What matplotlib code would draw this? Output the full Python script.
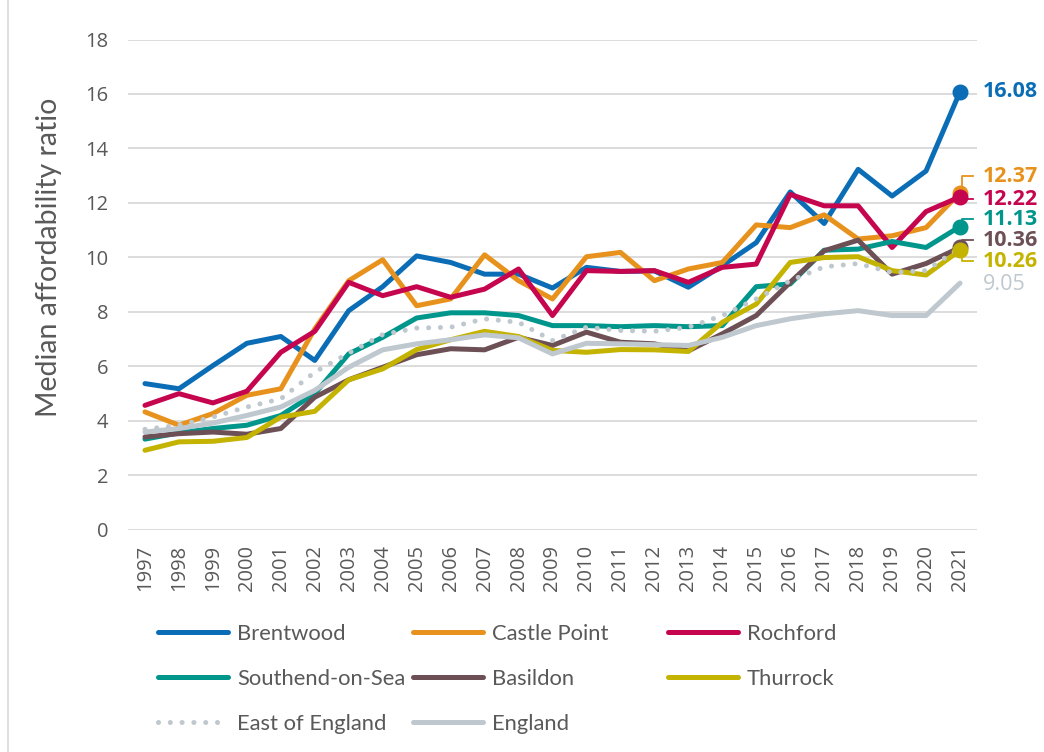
import matplotlib
matplotlib.use("Agg")
import matplotlib.pyplot as plt
from matplotlib.lines import Line2D

years = list(range(1997, 2022))

brentwood = [5.36, 5.17, 6.02, 6.84, 7.09, 6.21, 8.04, 8.92, 10.05, 9.81, 9.38, 9.38, 8.87, 9.63, 9.48, 9.50, 8.90,
             9.69, 10.54, 12.40, 11.24, 13.23, 12.25, 13.17, 16.08]
castle_point = [4.32, 3.83, 4.26, 4.93, 5.17, 7.37, 9.14, 9.91, 8.22, 8.47, 10.09, 9.14, 8.47, 10.02, 10.18, 9.14, 9.57,
                9.81, 11.19, 11.09, 11.56, 10.67, 10.79, 11.09, 12.37]
rochford = [4.56, 4.99, 4.65, 5.08, 6.51, 7.28, 9.08, 8.59, 8.92, 8.53, 8.83, 9.57, 7.86, 9.51, 9.48, 9.51, 9.08,
            9.63, 9.75, 12.31, 11.89, 11.89, 10.36, 11.68, 12.22]
southend = [3.32, 3.55, 3.71, 3.83, 4.19, 4.99, 6.45, 7.06, 7.77, 7.96, 7.96, 7.86, 7.49, 7.49, 7.45, 7.49, 7.45,
            7.49, 8.92, 9.02, 10.26, 10.30, 10.58, 10.36, 11.13]
basildon = [3.40, 3.52, 3.58, 3.50, 3.71, 4.86, 5.50, 5.96, 6.42, 6.64, 6.60, 7.06, 6.76, 7.25, 6.88, 6.82, 6.56,
            7.19, 7.86, 9.08, 10.24, 10.63, 9.38, 9.77, 10.36]
thurrock = [2.91, 3.22, 3.24, 3.38, 4.13, 4.34, 5.50, 5.90, 6.61, 6.97, 7.28, 7.09, 6.58, 6.51, 6.61, 6.60, 6.54,
            7.61, 8.28, 9.81, 9.99, 10.02, 9.51, 9.35, 10.26]
east_of_england = [3.68, 3.83, 4.13, 4.50, 4.80, 5.78, 6.48, 7.16, 7.40, 7.43, 7.74, 7.61, 6.94, 7.43, 7.31, 7.28, 7.43,
                   7.86, 8.47, 9.14, 9.65, 9.77, 9.44, 9.51, 10.35]
england = [3.58, 3.71, 3.91, 4.19, 4.50, 5.11, 5.96, 6.60, 6.82, 6.97, 7.15, 7.04, 6.45, 6.84, 6.82, 6.79, 6.76,
           7.06, 7.49, 7.74, 7.92, 8.04, 7.86, 7.86, 9.05]

names = ["Brentwood", "Castle Point", "Rochford", "Southend-on-Sea", "Basildon", "Thurrock",
         "East of England", "England"]
series = [brentwood, castle_point, rochford, southend, basildon, thurrock, east_of_england, england]
colors = ["#0A6DB6", "#E8921E", "#C6054F", "#00968C", "#6D5055", "#C4B300", "#BEC8CE", "#BEC8CE"]
end_marker = [True, True, True, True, True, True, False, False]
label_bold = [True, True, True, True, True, True, None, False]
# label vertical position (data units) for end labels
label_pos = [16.08, 12.97, 12.14, 11.40, 10.63, 9.86, None, 8.99]

TXT = "#595959"
GRID = "#D9D9D9"

fig = plt.figure(figsize=(10.44, 7.52), dpi=100)
W, H = 1044, 752
ax = fig.add_axes([128 / W, 1 - 529.5 / H, (977 - 128) / W, (529.5 - 39.5) / H])

ax.set_xlim(1996.5, 2021.5)
ax.set_ylim(0, 18)
ax.set_yticks(range(0, 19, 2))
ax.set_xticks(years)
ax.set_xticklabels([str(y) for y in years], rotation=90)
for s in ax.spines.values():
    s.set_visible(False)
ax.grid(axis="y", color=GRID, linewidth=1.3)
ax.set_axisbelow(True)
ax.tick_params(axis="both", length=0, labelcolor=TXT, labelsize=14.5)
ax.tick_params(axis="y", pad=14)
ax.tick_params(axis="x", pad=11)
for lab in ax.get_xticklabels() + ax.get_yticklabels():
    lab.set_family("Open Sans")
ax.set_ylabel("Median affordability ratio", fontsize=20.5, color=TXT, family="Lato")
ax.yaxis.set_label_coords(-0.078, 0.555)

handles = []
for name, vals, col, mk in zip(names, series, colors, end_marker):
    if name == "East of England":
        ln, = ax.plot(years, vals, color=col, lw=3.6, linestyle=(0, (0.01, 2.35)),
                      dash_capstyle="round", label=name, zorder=3)
    else:
        ln, = ax.plot(years, vals, color=col, lw=3.6, label=name, solid_joinstyle="round",
                      solid_capstyle="round", zorder=3)
        if mk:
            ax.plot(years[-1], vals[-1], "o", color=col, ms=10.5, zorder=4, clip_on=False)
    handles.append(ln)

# end labels with leader lines
x_end = years[-1]
for name, vals, col, bold, ly in zip(names, series, colors, label_bold, label_pos):
    if bold is None:
        continue
    v = vals[-1]
    txt = f"{v:.2f}"
    ax.text(x_end + 0.68, ly, txt, color=col, fontsize=15.5, family="Open Sans",
            fontweight="bold" if bold else "normal", va="center", ha="left", clip_on=False)
    if bold and abs(ly - v) > 0.05 and name != "Brentwood":
        ax.plot([x_end + 0.05, x_end + 0.05, x_end + 0.38], [v, ly, ly], color=col, lw=1.3,
                clip_on=False, zorder=2)

# legend: three columns of equal width
cols = [[0, 3, 6], [1, 4, 7], [2, 5]]
xs = [158, 413, 668]
for c, x0 in zip(cols, xs):
    leg = fig.legend([handles[i] for i in c], [names[i] for i in c], loc="upper left",
                     bbox_to_anchor=(x0 / W, 1 - 624 / H), frameon=False, borderpad=0,
                     borderaxespad=0, handlelength=3.2, handletextpad=0.4, labelspacing=1.14,
                     prop={"family": "Lato", "size": 15.8})
    for t in leg.get_texts():
        t.set_color(TXT)

# chart area border (left edge)
fig.add_artist(Line2D([8 / W, 8 / W], [0, 1], color=GRID, lw=1.2))

fig.savefig("out.png", dpi=100)
